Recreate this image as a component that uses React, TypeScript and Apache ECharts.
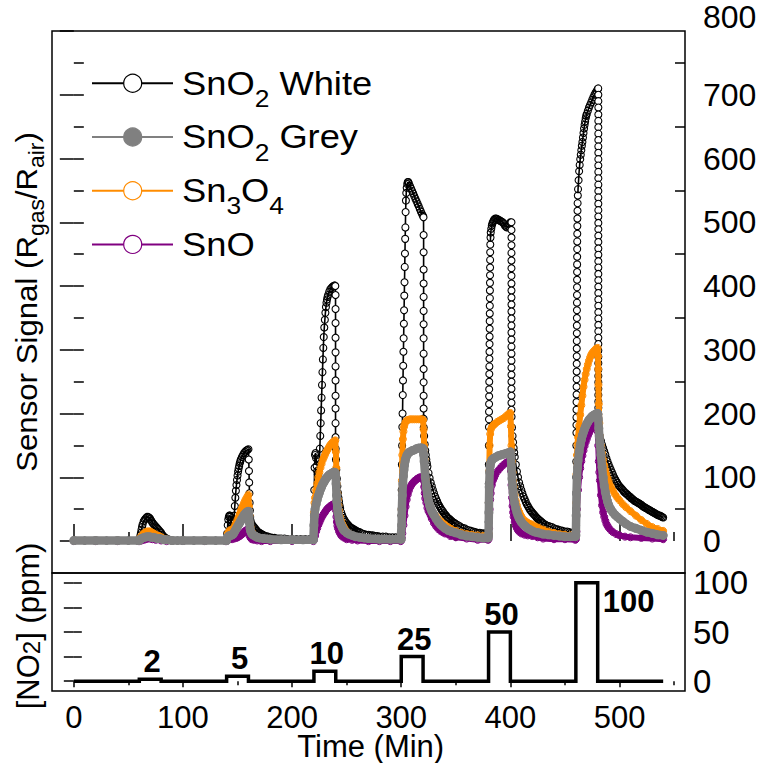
import React, { useEffect, useRef } from "react";
import * as echarts from "echarts";

type Pt = [number, number];

// SnO2 White response: [time (min), Rgas/Rair]
const whiteSignal: Pt[] = [
  [0, 1], [10, 1], [20, 1], [30, 1], [40, 1], [50, 1], [59, 1],
  [60, 1], [60.5, 4], [61, 9], [61.5, 13], [62, 18], [62.5, 22], [63, 26], [64, 31], [65, 34], [66, 36], [67, 38], [68, 38],
  [69, 37], [70, 35], [71, 32], [72, 29], [73, 27], [74, 25], [75, 23], [76, 21], [77, 19], [78, 17], [79, 15], [80, 13],
  [81, 10], [82, 8], [83, 6], [84, 5], [85, 4], [86, 3], [88, 2], [90, 1],
  [95, 1], [100, 1], [110, 1], [120, 1], [130, 1], [139, 1],
  [140, 2], [140.5, 12], [141, 25], [141.5, 34], [142, 38], [142.5, 40], [143, 40], [143.5, 38], [144, 33], [144.5, 28],
  [145, 24], [145.5, 22], [146, 22], [146.5, 28], [147, 40], [147.5, 55], [148, 68], [148.5, 79], [149, 88], [149.5, 96],
  [150, 103], [150.5, 109], [151, 114], [151.5, 118], [152, 122], [152.5, 125], [153, 128], [154, 132], [155, 135],
  [156, 138], [157, 140], [158, 142], [159, 143], [160, 144],
  [160.3, 128], [160.5, 110], [160.7, 92], [160.9, 75], [161.1, 60], [161.3, 48], [161.6, 38], [162, 32], [163, 27],
  [164, 24], [165, 22], [166, 20], [167, 18], [168, 16], [169, 14], [170, 13], [171, 12], [172, 11], [173, 10], [174, 9],
  [176, 8], [178, 7], [180, 6], [182, 5], [184, 5], [186, 4], [188, 4], [190, 4], [193, 4], [196, 3], [200, 3], [204, 3],
  [208, 3], [212, 3], [216, 3], [219.5, 3],
  [220, 40], [220.3, 80], [220.6, 115], [221, 135], [221.5, 138], [222, 130], [222.5, 118], [223, 110], [223.5, 105],
  [224, 104], [224.5, 112], [225, 125], [225.4, 145], [225.8, 165], [226.2, 185], [226.6, 205], [227, 225], [227.4, 245],
  [227.8, 265], [228.2, 285], [228.6, 303], [229, 320], [229.5, 335], [230, 347], [230.5, 358], [231, 367], [231.5, 374],
  [232, 379], [232.5, 383], [233, 386], [234, 391], [235, 395], [236, 397], [237, 399], [238, 400], [239, 401], [239.6, 400],
  [239.8, 386], [239.8, 364], [239.8, 342], [239.8, 319], [239.8, 296], [239.8, 274], [239.8, 252], [239.8, 228],
  [239.8, 208], [239.8, 185], [239.8, 163], [239.9, 145],
  [240.2, 128], [240.5, 112], [241, 98], [241.5, 86], [242, 76], [242.5, 68], [243, 62], [243.5, 56], [244, 52], [245, 45],
  [246, 40], [247, 36], [248, 33], [249, 30], [250, 28], [251, 26], [252, 24], [253, 22], [254, 21], [255, 20], [256, 19],
  [257, 18], [258, 17], [259, 16], [260, 15], [262, 14], [264, 12], [266, 11], [268, 10], [270, 10], [272, 9], [274, 9],
  [276, 8], [278, 8], [280, 7], [283, 7], [286, 7], [289, 6], [292, 6], [295, 6], [298, 6], [300, 6],
  [300.2, 40], [300.4, 80], [300.6, 120], [300.8, 150], [301, 179], [301.2, 200], [301.4, 229], [301.6, 252], [301.8, 275],
  [302, 297], [302.2, 318], [302.4, 341], [302.6, 362], [302.8, 385], [303, 406], [303.2, 430], [303.4, 451], [303.6, 474],
  [303.8, 492], [304, 516], [304.3, 534], [304.6, 546], [305, 554], [305.5, 560], [306, 563], [306.5, 563], [307, 561],
  [308, 557], [309, 553], [310, 549], [311, 545], [312, 541], [313, 537], [314, 533], [315, 529], [316, 525], [317, 521],
  [318, 517], [319, 513], [320, 510], [320.4, 508],
  [320.5, 480], [320.5, 453], [320.5, 426], [320.5, 404], [320.5, 383], [320.5, 361], [320.5, 340], [320.5, 318],
  [320.5, 294], [320.5, 270], [320.5, 249], [320.5, 228], [320.5, 208], [320.5, 192], [320.6, 178],
  [321, 165], [321.5, 152], [322, 142], [322.5, 135], [323, 128], [323.5, 122], [324, 117], [325, 107], [326, 99], [327, 92],
  [328, 86], [329, 80], [330, 75], [331, 70], [332, 66], [333, 62], [334, 58], [335, 55], [336, 52], [337, 49], [338, 47],
  [339, 44], [340, 42], [341, 40], [342, 38], [343, 36], [344, 35], [345, 33], [346, 32], [347, 30], [348, 29], [349, 28],
  [350, 27], [352, 25], [354, 23], [356, 21], [358, 20], [360, 18], [362, 17], [364, 16], [366, 15], [368, 14], [370, 13],
  [372, 13], [374, 12], [376, 12], [378, 11], [380, 11],
  [380.1, 30], [380.15, 60], [380.2, 90], [380.25, 120], [380.3, 150], [380.35, 179], [380.4, 191], [380.45, 203],
  [380.5, 215], [380.55, 227], [380.6, 238], [380.65, 250], [380.7, 262], [380.75, 274], [380.8, 286], [380.85, 297],
  [380.9, 309], [380.95, 321], [381, 333], [381.05, 345], [381.1, 357], [381.15, 369], [381.2, 381], [381.25, 393],
  [381.3, 405], [381.35, 417], [381.4, 429], [381.45, 441], [381.5, 453], [381.6, 465], [381.8, 476], [382, 484],
  [382.5, 490], [383, 495], [383.5, 498], [384, 500], [384.5, 502], [385, 504], [386, 506], [387, 506], [388, 505],
  [389, 504], [390, 503], [391, 502], [392, 501], [393, 500], [394, 498], [395, 495], [396, 493], [397, 492], [398, 494],
  [399, 497], [400, 500], [401, 500],
  [401, 488], [401, 476], [401, 464], [401, 452], [401, 440], [401, 428], [401, 416], [401, 404], [401, 393], [401, 382],
  [401, 371], [401, 360], [401, 349], [401, 338], [401, 327], [401, 316], [401, 305], [401, 294], [401, 283], [401, 272],
  [401, 261], [401, 250], [401, 239], [401, 228], [401, 217], [401, 206], [401.1, 195],
  [401.5, 178], [402, 165], [402.5, 155], [403, 146], [403.5, 139], [404, 132], [405, 120], [406, 109], [407, 100],
  [408, 92], [409, 86], [410, 80], [411, 75], [412, 70], [413, 66], [414, 62], [415, 58], [416, 55], [417, 52], [418, 49],
  [419, 47], [420, 45], [421, 43], [422, 41], [423, 39], [424, 37], [425, 35], [426, 34], [427, 32], [428, 31], [429, 29],
  [430, 28], [432, 26], [434, 24], [436, 23], [438, 22], [440, 20], [442, 19], [444, 18], [446, 17], [448, 16], [450, 15],
  [452, 15], [454, 14], [456, 13], [458, 13], [460, 12],
  [460.2, 25], [460.25, 50], [460.3, 75], [460.35, 100], [460.4, 125], [460.45, 150], [460.5, 170], [460.53, 182],
  [460.56, 194], [460.59, 206], [460.62, 218], [460.65, 230], [460.68, 242], [460.71, 254], [460.74, 266], [460.77, 278],
  [460.8, 290], [460.83, 302], [460.86, 314], [460.89, 326], [460.92, 338], [460.95, 350], [460.98, 362], [461.01, 374],
  [461.04, 386], [461.07, 398], [461.1, 410], [461.13, 422], [461.16, 434], [461.19, 446], [461.22, 458], [461.25, 470],
  [461.3, 482], [461.35, 494], [461.4, 506], [461.5, 518], [461.6, 530], [461.8, 542], [462, 552], [462.5, 566],
  [463, 580], [463.5, 590], [464, 599], [464.5, 606], [465, 613], [465.5, 620], [466, 626], [466.5, 633], [467, 640],
  [467.5, 647], [468, 653], [468.5, 658], [469, 663], [469.5, 667], [470, 670], [471, 675], [472, 680], [473, 684],
  [474, 688], [475, 692], [476, 696], [477, 700], [478, 703], [479, 706], [480, 709], [480.5, 710],
  [480.6, 700], [480.6, 690], [480.6, 680], [480.6, 669], [480.6, 659], [480.6, 649], [480.6, 639], [480.6, 629],
  [480.6, 619], [480.6, 609], [480.6, 599], [480.6, 589], [480.6, 579], [480.6, 569], [480.6, 559], [480.6, 549],
  [480.6, 539], [480.6, 529], [480.6, 519], [480.6, 509], [480.6, 499], [480.6, 489], [480.6, 479], [480.6, 469],
  [480.6, 459], [480.6, 449], [480.6, 439], [480.6, 429], [480.6, 419], [480.6, 409], [480.6, 399], [480.6, 389],
  [480.6, 379], [480.6, 369], [480.6, 359], [480.6, 349], [480.6, 339], [480.6, 329], [480.6, 319], [480.6, 309],
  [480.6, 299], [480.6, 289], [480.6, 279], [480.6, 269], [480.6, 259], [480.6, 249], [480.6, 239], [480.6, 229],
  [480.6, 219], [480.6, 209], [480.6, 199], [480.6, 189], [480.7, 178],
  [481, 170], [481.5, 166], [482, 162], [483, 157], [484, 151], [485, 146], [486, 141], [487, 136], [488, 130], [489, 125],
  [490, 120], [491, 116], [492, 112], [493, 108], [494, 104], [495, 100], [496, 97], [497, 94], [498, 91], [499, 88],
  [500, 86], [501, 84], [502, 82], [503, 80], [504, 78], [505, 76], [506, 75], [507, 73], [508, 72], [509, 70], [510, 69],
  [511, 67], [512, 66], [513, 64], [514, 63], [515, 62], [516, 61], [517, 60], [518, 59], [519, 58], [520, 57], [521, 55],
  [522, 54], [523, 53], [524, 52], [525, 51], [526, 50], [527, 49], [528, 48], [529, 47], [530, 46], [531, 45], [532, 44],
  [533, 43], [534, 42], [535, 41], [536, 40], [537, 40], [538, 39], [539, 38], [540, 37],
];

// SnO2 Grey response
const greySignal: Pt[] = [
  [0, 1], [20, 1], [40, 1], [59, 1], [60, 1], [61, 3], [62, 4], [63, 5], [65, 6], [67, 7], [69, 7], [71, 6], [73, 6],
  [75, 5], [77, 4], [79, 4], [81, 3], [83, 2], [86, 2], [90, 1], [100, 1], [120, 1], [139, 1],
  [140, 1], [141, 6], [142, 8], [143, 9], [144, 9], [145, 10], [146, 11], [147, 14], [148, 17], [149, 20], [150, 23],
  [151, 26], [152, 29], [153, 32], [154, 35], [155, 38], [156, 41], [157, 43], [158, 45], [159, 46], [160, 47],
  [160.5, 38], [161, 28], [161.5, 20], [162, 16], [163, 12], [164, 10], [166, 8], [168, 6], [170, 5], [174, 4], [180, 3],
  [190, 2], [200, 2], [210, 2], [219.5, 2],
  [220, 25], [220.5, 40], [221, 50], [222, 58], [223, 65], [224, 71], [225, 76], [226, 81], [227, 85], [228, 89], [229, 92],
  [230, 95], [231, 98], [232, 100], [233, 102], [234, 104], [235, 105], [236, 106], [237, 107], [238, 108], [239, 108],
  [239.8, 106], [240.3, 90], [240.7, 72], [241, 62], [241.5, 52], [242, 45], [243, 36], [244, 29], [245, 25], [246, 21],
  [247, 18], [248, 16], [250, 13], [252, 11], [255, 9], [258, 7], [262, 6], [266, 5], [270, 4], [280, 3], [290, 3],
  [299.5, 3],
  [300, 3], [300.3, 25], [300.6, 50], [301, 72], [301.5, 90], [302, 102], [302.5, 112], [303, 119], [303.5, 125],
  [304, 129], [305, 134], [306, 137], [307, 139], [308, 140], [310, 142], [312, 143], [314, 145], [316, 146], [318, 146],
  [319, 146], [320, 145], [320.5, 136], [321, 125], [322, 100], [323, 84], [324, 72], [325, 63], [326, 56], [327, 51],
  [328, 47], [329, 44], [330, 41], [332, 35], [334, 30], [336, 26], [338, 23], [340, 20], [343, 17], [346, 15], [350, 13],
  [355, 10], [360, 8], [365, 7], [370, 6], [375, 5], [379.5, 5],
  [380, 8], [380.3, 45], [380.6, 85], [381, 108], [381.5, 118], [382, 123], [383, 127], [384, 129], [385, 130], [387, 132],
  [389, 134], [391, 135], [393, 136], [395, 137], [397, 138], [399, 139], [400, 140], [400.5, 132], [401, 115],
  [401.5, 98], [402, 85], [402.5, 76], [403, 69], [404, 59], [405, 51], [406, 45], [407, 40], [408, 36], [409, 33],
  [410, 30], [412, 26], [414, 23], [416, 20], [418, 18], [420, 16], [423, 14], [426, 13], [430, 11], [435, 10], [440, 9],
  [445, 8], [450, 7], [455, 7], [459.5, 7],
  [460, 9], [460.3, 40], [460.6, 75], [461, 100], [461.5, 115], [462, 126], [463, 140], [464, 151], [465, 159], [466, 166],
  [467, 171], [468, 176], [469, 180], [470, 184], [471, 187], [472, 190], [473, 192], [474, 194], [475, 196], [476, 197],
  [477, 198], [478, 199], [479, 200], [480, 200], [480.5, 192], [481, 177], [481.5, 165], [482, 155], [483, 135],
  [484, 116], [485, 100], [486, 87], [487, 77], [488, 69], [489, 62], [490, 57], [492, 50], [494, 45], [496, 41], [498, 38],
  [500, 35], [503, 31], [506, 27], [510, 23], [515, 20], [520, 17], [525, 14], [530, 12], [535, 10], [540, 9],
];

// Sn3O4 response
const orangeSignal: Pt[] = [
  [0, 1], [20, 1], [40, 1], [59, 1], [60, 1], [61, 6], [62, 8], [63, 10], [64, 12], [65, 13], [66, 14], [67, 15], [68, 15],
  [69, 15], [70, 15], [71, 14], [72, 13], [73, 12], [74, 11], [75, 10], [76, 9], [77, 8], [78, 8], [79, 7], [80, 6],
  [81, 5], [82, 4], [84, 3], [86, 2], [90, 1], [100, 1], [120, 1], [139, 1],
  [140, 2], [141, 12], [142, 15], [143, 17], [144, 17], [145, 18], [146, 19], [147, 22], [148, 26], [149, 30], [150, 34],
  [151, 38], [152, 43], [153, 48], [154, 52], [155, 56], [156, 60], [157, 64], [158, 67], [159, 70], [160, 73],
  [160.5, 55], [161, 40], [161.5, 28], [162, 22], [163, 15], [164, 12], [165, 10], [167, 7], [169, 5], [172, 4], [176, 3],
  [180, 2], [190, 2], [200, 2], [210, 2], [219, 2],
  [220, 45], [220.5, 60], [221, 68], [222, 80], [223, 90], [224, 100], [225, 108], [226, 115], [227, 121], [228, 127],
  [229, 131], [230, 135], [231, 139], [232, 142], [233, 145], [234, 148], [235, 151], [236, 153], [237, 155], [238, 156],
  [239, 157], [239.6, 158], [240.1, 140], [240.5, 115], [241, 90], [241.5, 75], [242, 65], [242.5, 56], [243, 48],
  [244, 38], [245, 32], [246, 27], [247, 23], [248, 20], [249, 17], [250, 15], [252, 12], [255, 9], [258, 7], [262, 5],
  [266, 4], [270, 3], [280, 2], [290, 2], [299.5, 3],
  [300, 10], [300.3, 50], [300.6, 95], [301, 135], [301.5, 160], [302, 172], [302.5, 179], [303, 183], [304, 187],
  [305, 189], [306, 190], [308, 191], [310, 191], [312, 191], [314, 191], [316, 191], [318, 191], [319, 191], [320, 190],
  [320.5, 175], [321, 150], [321.5, 128], [322, 110], [322.5, 97], [323, 86], [324, 72], [325, 63], [326, 57], [327, 52],
  [328, 48], [329, 45], [330, 43], [331, 41], [333, 37], [335, 33], [337, 30], [340, 26], [343, 22], [346, 19], [350, 16],
  [355, 13], [360, 11], [365, 10], [370, 9], [375, 8], [379.5, 8],
  [380, 12], [380.3, 60], [380.6, 110], [381, 150], [381.5, 168], [382, 175], [383, 179], [384, 181], [385, 183],
  [386, 184], [388, 187], [390, 189], [392, 191], [394, 193], [396, 196], [398, 199], [399, 200], [400, 201],
  [400.5, 180], [401, 150], [401.5, 125], [402, 108], [402.5, 95], [403, 85], [404, 72], [405, 63], [406, 56], [407, 50],
  [408, 46], [409, 42], [410, 39], [412, 34], [414, 31], [416, 29], [418, 27], [420, 26], [423, 23], [426, 21], [430, 18],
  [435, 15], [440, 13], [445, 11], [450, 10], [455, 9], [459.5, 9],
  [460, 12], [460.3, 60], [460.6, 105], [461, 135], [461.5, 152], [462, 163], [463, 181], [464, 198], [465, 213],
  [466, 228], [467, 242], [468, 253], [469, 262], [470, 270], [471, 277], [472, 283], [473, 288], [474, 292], [475, 295],
  [476, 297], [477, 299], [478, 301], [479, 302], [480, 303], [480.3, 290], [480.5, 270], [480.7, 245], [481, 215],
  [481.5, 185], [482, 165], [483, 150], [484, 138], [485, 128], [486, 119], [487, 112], [488, 105], [489, 99], [490, 94],
  [492, 86], [494, 79], [496, 73], [498, 68], [500, 64], [503, 58], [506, 53], [510, 47], [515, 40], [520, 33], [525, 27],
  [530, 22], [535, 19], [540, 16],
];

// SnO response
const purpleSignal: Pt[] = [
  [0, 0], [20, 0], [40, 0], [59, 0], [60, 0], [62, 1], [64, 2], [66, 3], [68, 4], [70, 4], [72, 3], [75, 2], [80, 1],
  [85, 0], [100, 0], [120, 0], [139, 0],
  [140, 0], [141, 2], [143, 3], [145, 3], [147, 4], [149, 5], [150, 6], [151, 7], [152, 8], [153, 9], [154, 11], [155, 12],
  [156, 14], [157, 16], [158, 17], [159, 18], [159.5, 18], [160, 16], [160.5, 12], [161, 8], [162, 5], [163, 3], [165, 2],
  [168, 1], [172, 0], [180, 0], [200, 0], [219.5, 0],
  [220, 2], [221, 8], [222, 15], [223, 20], [224, 25], [225, 29], [226, 33], [227, 37], [228, 40], [229, 43], [230, 45],
  [231, 48], [232, 50], [233, 52], [234, 53], [235, 55], [236, 56], [237, 57], [238, 58], [239, 58], [239.6, 58],
  [240.2, 48], [240.6, 38], [241, 30], [241.5, 24], [242, 20], [243, 15], [244, 12], [245, 9], [246, 7], [248, 5],
  [250, 3], [255, 2], [260, 1], [270, 0], [280, 0], [290, 0], [299.5, 0],
  [300, 1], [300.5, 5], [301, 12], [302, 25], [303, 40], [304, 54], [305, 65], [306, 73], [307, 79], [308, 84], [309, 87],
  [310, 90], [311, 92], [312, 94], [313, 95], [314, 97], [315, 98], [316, 99], [317, 100], [318, 100], [319, 100],
  [320, 99], [320.5, 95], [321, 85], [321.5, 75], [322, 67], [323, 60], [324, 52], [325, 47], [326, 44], [327, 40],
  [328, 35], [330, 28], [332, 23], [334, 19], [336, 16], [338, 14], [340, 12], [345, 8], [350, 6], [360, 4], [370, 2],
  [379.5, 2],
  [380, 3], [380.5, 20], [381, 50], [381.5, 65], [382, 75], [383, 88], [384, 95], [385, 99], [386, 103], [388, 109],
  [390, 113], [392, 117], [394, 120], [396, 123], [398, 125], [399, 126], [400, 126], [400.5, 110], [401, 88],
  [401.5, 68], [402, 55], [402.5, 45], [403, 38], [404, 30], [405, 24], [406, 20], [407, 17], [408, 15], [410, 12],
  [413, 10], [416, 9], [420, 8], [425, 6], [430, 4], [440, 3], [450, 3], [459.5, 2],
  [460, 3], [460.5, 15], [461, 50], [462, 80], [463, 100], [464, 114], [465, 125], [466, 134], [467, 142], [468, 149],
  [469, 155], [470, 160], [471, 165], [472, 169], [473, 173], [474, 176], [475, 179], [476, 181], [477, 182], [478, 181],
  [479, 178], [480, 172], [480.5, 150], [481, 125], [481.5, 108], [482, 95], [483, 72], [484, 56], [485, 45], [486, 38],
  [487, 32], [488, 27], [489, 24], [490, 21], [492, 17], [494, 14], [497, 11], [500, 9], [505, 7], [510, 6], [520, 5],
  [530, 4], [540, 3],
];

// NO2 exposure programme (min, ppm)
const pulseStart = [60, 140, 220, 300, 380, 460];
const pulseEnd = [80, 160, 240, 320, 400, 480];
const pulseConc = [2, 5, 10, 25, 50, 100];
const runStart = 0;
const runEnd = 540;

// Tick positions
const timeMajor = [0, 100, 200, 300, 400, 500];
const timeMinor = [50, 150, 250, 350, 450, 550];
const signalMajor = [0, 100, 200, 300, 400, 500, 600, 700, 800];
const signalMinor = [50, 150, 250, 350, 450, 550, 650, 750];
const signalAll = [0, 50, 100, 150, 200, 250, 300, 350, 400, 450, 500, 550, 600, 650, 700, 750];
const concTicks = [0, 25, 50, 75, 100];
const concLabels = [0, 50, 100];

const FONT = "'Liberation Sans', Arial, Helvetica, sans-serif";
const GREY = "#808080";
const ORANGE = "#FF8C00";
const PURPLE = "#800080";
const TICK_STYLE = { color: "#000", width: 1.5 };
const CLEAR = "rgba(255,255,255,0)";

const TOP_GRID = { left: 52, top: 31, width: 633, height: 542 };
const BOTTOM_GRID = { left: 52, top: 573, width: 633, height: 118 };

function timeAxis(gridIndex: number, ticks: number[], length: number, inside: boolean, labels?: number[]) {
  return {
    type: "value",
    gridIndex,
    min: -20,
    max: 560,
    position: "bottom",
    axisLine: { show: false },
    splitLine: { show: false },
    axisTick: { show: true, inside, length, customValues: ticks, lineStyle: TICK_STYLE },
    axisLabel: labels
      ? { show: true, customValues: labels, margin: 15, fontSize: 31, lineHeight: 22, fontFamily: FONT, color: "#000" }
      : { show: false },
  };
}

function valueAxis(
  gridIndex: number,
  min: number,
  max: number,
  position: "left" | "right",
  ticks: number[],
  length: number,
  labels?: number[],
  labelExtra?: Record<string, unknown>
) {
  return {
    type: "value",
    gridIndex,
    min,
    max,
    position,
    axisLine: { show: false },
    splitLine: { show: false },
    axisTick: { show: true, inside: true, length, customValues: ticks, lineStyle: TICK_STYLE },
    axisLabel: labels
      ? { show: true, customValues: labels, fontFamily: FONT, color: "#000", ...labelExtra }
      : { show: false },
  };
}

// Points on fast transitions keep a white fill so the chain of open circles reads clearly;
// slowly varying stretches overlap into a solid trace.
function openCircleData(points: Pt[], steepRate: number) {
  const rate = (a: Pt, b: Pt) => {
    const dt = Math.abs(b[0] - a[0]);
    const dv = Math.abs(b[1] - a[1]);
    return dt === 0 ? (dv === 0 ? 0 : Infinity) : dv / dt;
  };
  return points.map((p, i) => {
    const r = Math.max(i > 0 ? rate(points[i - 1], p) : 0, i < points.length - 1 ? rate(p, points[i + 1]) : 0);
    return r > steepRate ? { value: p, itemStyle: { color: "#fff" } } : { value: p };
  });
}

// Step trace of the NO2 concentration
const no2Trace: Pt[] = [[runStart, 0]];
pulseStart.forEach((s, i) => {
  no2Trace.push([s, 0], [s, pulseConc[i]], [pulseEnd[i], pulseConc[i]], [pulseEnd[i], 0]);
});
no2Trace.push([runEnd, 0]);

const lastPulse = pulseConc.length - 1;
const no2Labels = pulseConc.map((c, i) => ({
  value: [(pulseStart[i] + pulseEnd[i]) / 2, c],
  label:
    i === lastPulse
      ? { position: "right", distance: 16, offset: [0, 19] }
      : { position: "top", distance: 2, offset: [2, 0] },
}));

const legendItems = [
  { text: "SnO{s|2} White", line: "#000", stroke: "#000", fill: "#fff" },
  { text: "SnO{s|2} Grey", line: GREY, stroke: GREY, fill: GREY },
  { text: "Sn{s|3}O{s|4}", line: ORANGE, stroke: ORANGE, fill: "#fff" },
  { text: "SnO", line: PURPLE, stroke: PURPLE, fill: "#fff" },
];

function buildLegend() {
  const els: any[] = [];
  legendItems.forEach((item, i) => {
    const y = 83.3 + i * 53.7;
    els.push({
      type: "line",
      shape: { x1: 92, y1: y, x2: 173, y2: y },
      style: { stroke: item.line, lineWidth: 2 },
      silent: true,
    });
    els.push({
      type: "circle",
      shape: { cx: 132.7, cy: y, r: 9 },
      style: { fill: item.fill, stroke: item.stroke, lineWidth: 1.2 },
      silent: true,
    });
    els.push({
      type: "text",
      x: 182,
      y,
      scaleX: 1.1,
      silent: true,
      style: {
        text: item.text,
        fill: "#000",
        fontSize: 33,
        fontFamily: FONT,
        lineHeight: 40,
        align: "left",
        verticalAlign: "middle",
        rich: { s: { fontSize: 24, fontFamily: FONT, height: 10, verticalAlign: "bottom", fill: "#000" } },
      },
    });
  });
  return els;
}

function buildOption() {
  return {
    animation: false,
    backgroundColor: "#fff",
    grid: [
      { ...TOP_GRID, show: true, borderColor: "#000", borderWidth: 1.5, backgroundColor: "transparent" },
      { ...BOTTOM_GRID, show: true, borderColor: "#000", borderWidth: 1.5, backgroundColor: "transparent" },
    ],
    xAxis: [
      timeAxis(0, timeMajor, 17, true),
      timeAxis(0, timeMinor, 9, true),
      timeAxis(1, timeMajor, 6, false, timeMajor),
      timeAxis(1, timeMinor, 4, false),
    ],
    yAxis: [
      valueAxis(0, -50, 800, "left", signalAll, 10),
      valueAxis(0, -50, 800, "right", signalMajor, 14, signalMajor, {
        margin: 18,
        fontSize: 32,
        formatter: (v: number) => (v === 800 ? `{hi|${v}}` : `${v}`),
        rich: { hi: { fontSize: 32, fontFamily: FONT, color: "#000", padding: [0, 0, 28, 0] } },
      }),
      valueAxis(0, -50, 800, "right", signalMinor, 10),
      valueAxis(1, -10, 110, "left", concTicks, 8),
      valueAxis(1, -10, 110, "right", concTicks, 10, concLabels, { margin: 8, fontSize: 33 }),
    ],
    series: [
      {
        name: "SnO2 White",
        type: "line",
        xAxisIndex: 0,
        yAxisIndex: 0,
        z: 2,
        data: openCircleData(whiteSignal, 60),
        symbol: "circle",
        symbolSize: 7,
        showAllSymbol: true,
        lineStyle: { color: "#000", width: 1.6 },
        itemStyle: { color: CLEAR, borderColor: "#000", borderWidth: 1.1 },
        emphasis: { disabled: true },
        silent: true,
      },
      {
        name: "Sn3O4",
        type: "line",
        xAxisIndex: 0,
        yAxisIndex: 0,
        z: 3,
        data: orangeSignal,
        symbol: "circle",
        symbolSize: 7,
        showAllSymbol: true,
        lineStyle: { color: ORANGE, width: 6, join: "round", cap: "round" },
        itemStyle: { color: CLEAR, borderColor: ORANGE, borderWidth: 1 },
        emphasis: { disabled: true },
        silent: true,
      },
      {
        name: "SnO",
        type: "line",
        xAxisIndex: 0,
        yAxisIndex: 0,
        z: 4,
        data: purpleSignal,
        symbol: "circle",
        symbolSize: 7,
        showAllSymbol: true,
        lineStyle: { color: PURPLE, width: 6, join: "round", cap: "round" },
        itemStyle: { color: CLEAR, borderColor: PURPLE, borderWidth: 1 },
        emphasis: { disabled: true },
        silent: true,
      },
      {
        name: "SnO2 Grey",
        type: "line",
        xAxisIndex: 0,
        yAxisIndex: 0,
        z: 5,
        data: greySignal,
        symbol: "circle",
        symbolSize: 9,
        showAllSymbol: true,
        lineStyle: { color: GREY, width: 8.5, join: "round", cap: "round" },
        itemStyle: { color: GREY },
        emphasis: { disabled: true },
        silent: true,
      },
      {
        name: "NO2",
        type: "line",
        xAxisIndex: 2,
        yAxisIndex: 3,
        data: no2Trace,
        symbol: "none",
        lineStyle: { color: "#000", width: 3.5, join: "miter" },
        emphasis: { disabled: true },
        silent: true,
      },
      {
        name: "NO2 level",
        type: "scatter",
        xAxisIndex: 2,
        yAxisIndex: 3,
        data: no2Labels,
        symbolSize: 0,
        itemStyle: { opacity: 1 },
        label: {
          show: true,
          formatter: (p: any) => String(p.value[1]),
          fontSize: 31,
          fontWeight: "bold",
          fontFamily: FONT,
          color: "#000",
        },
        emphasis: { disabled: true },
        silent: true,
      },
    ],
    graphic: [
      ...buildLegend(),
      {
        type: "text",
        x: 26,
        y: 302,
        rotation: Math.PI / 2,
        scaleX: 1.04,
        silent: true,
        style: {
          text: "Sensor Signal (R{s|gas}/R{s|air})",
          fill: "#000",
          fontSize: 30,
          fontFamily: FONT,
          lineHeight: 36,
          align: "center",
          verticalAlign: "middle",
          rich: { s: { fontSize: 22, fontFamily: FONT, height: 14, verticalAlign: "bottom", fill: "#000" } },
        },
      },
      {
        type: "text",
        x: 28,
        y: 626,
        rotation: Math.PI / 2,
        silent: true,
        style: {
          text: "[NO{s|2}] (ppm)",
          fill: "#000",
          fontSize: 31,
          fontFamily: FONT,
          lineHeight: 36,
          align: "center",
          verticalAlign: "middle",
          rich: { s: { fontSize: 24, fontFamily: FONT, height: 30, verticalAlign: "bottom", fill: "#000" } },
        },
      },
      {
        type: "text",
        x: 370.7,
        y: 746,
        silent: true,
        style: {
          text: "Time (Min)",
          fill: "#000",
          fontSize: 31,
          lineHeight: 24,
          fontFamily: FONT,
          align: "center",
          verticalAlign: "middle",
        },
      },
    ],
  };
}

export default function App() {
  const ref = useRef<HTMLDivElement>(null);
  useEffect(() => {
    if (!ref.current) return;
    const chart = echarts.init(ref.current, null, { renderer: "svg" });
    chart.setOption(buildOption() as any);
    return () => chart.dispose();
  }, []);
  return (
    <div
      ref={ref}
      style={{ position: "absolute", left: 0, top: 0, width: 768, height: 763, background: "#fff" }}
    />
  );
}
